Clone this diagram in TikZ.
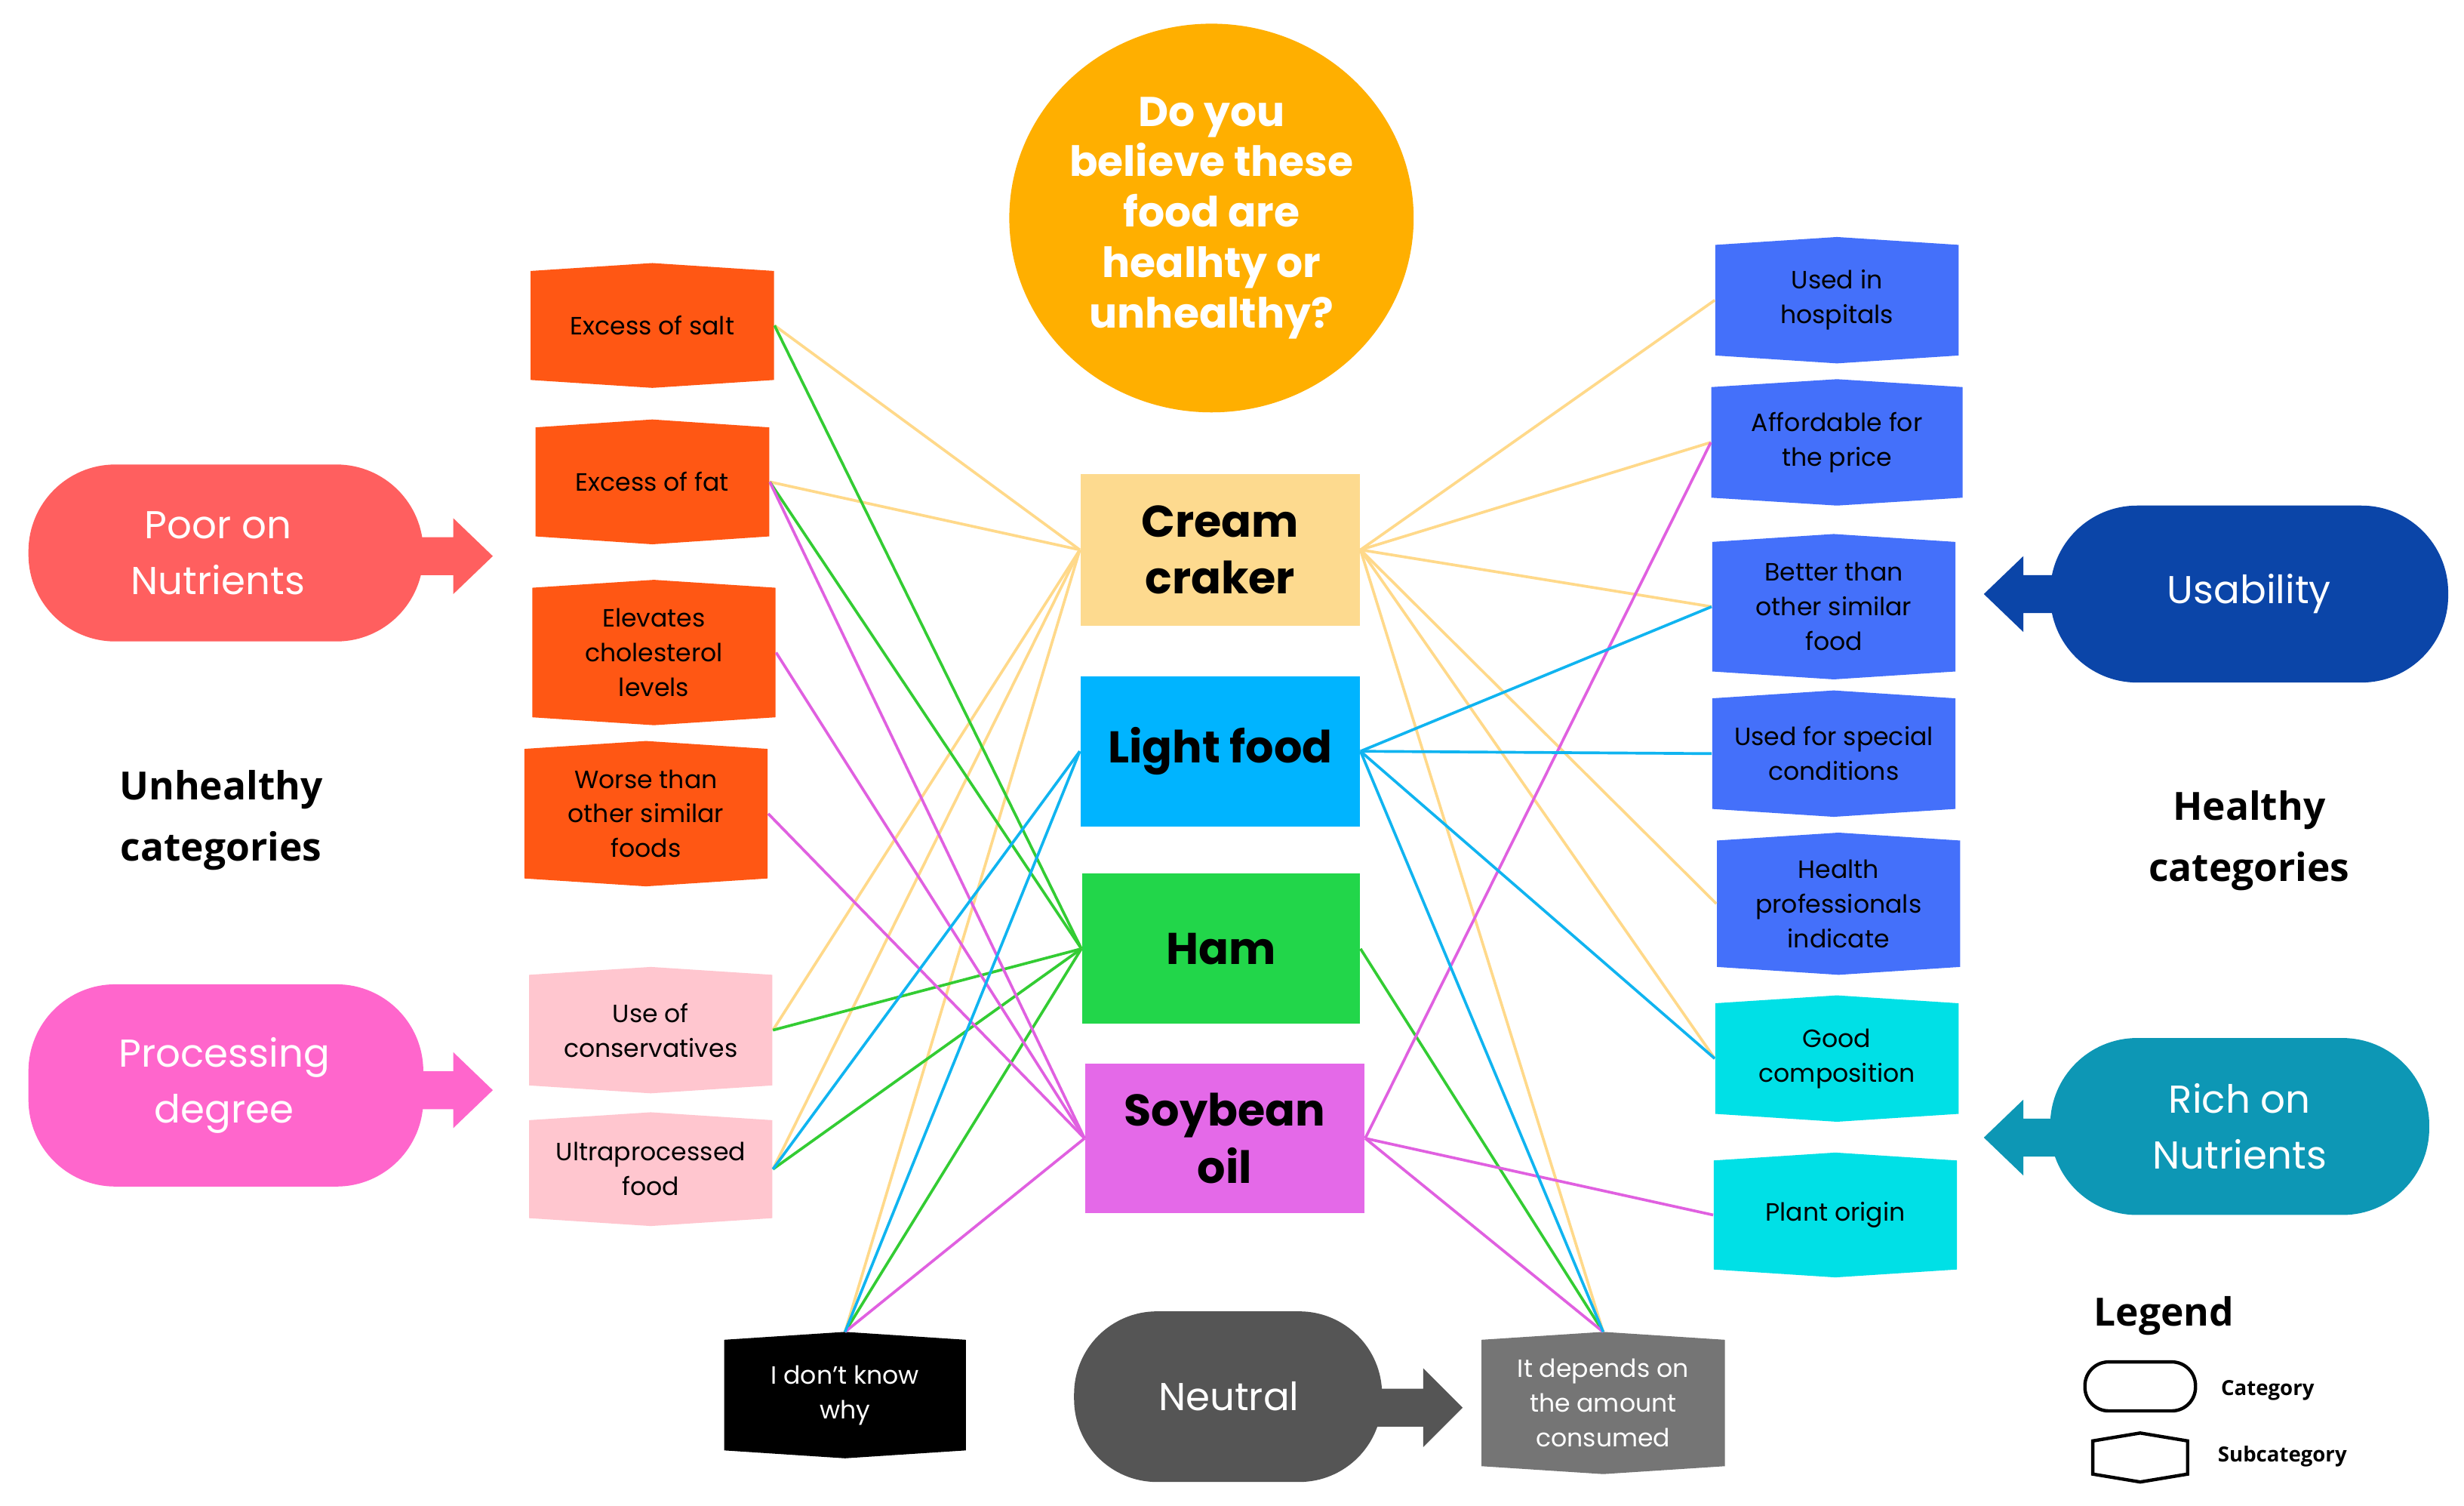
\documentclass[tikz,border=0pt]{standalone}
\usepackage{fontspec}
\setmainfont{Poppins}
\newfontfamily\osans{Open Sans}
\definecolor{qorange}{HTML}{FFAF00}
\definecolor{cream}{HTML}{FDDA8F}
\definecolor{lightb}{HTML}{00B4FF}
\definecolor{hamg}{HTML}{22D64A}
\definecolor{soyp}{HTML}{E469E8}
\definecolor{subor}{HTML}{FF5714}
\definecolor{subpk}{HTML}{FFC6CF}
\definecolor{subbl}{HTML}{4470FA}
\definecolor{subcy}{HTML}{00E0E6}
\definecolor{poorc}{HTML}{FF5F5F}
\definecolor{procc}{HTML}{FF66CC}
\definecolor{usac}{HTML}{0B45A8}
\definecolor{richc}{HTML}{0D97B5}
\definecolor{neuc}{HTML}{555555}
\definecolor{depc}{HTML}{757575}
\definecolor{lcream}{HTML}{FFD98A}
\definecolor{llight}{HTML}{10B4F0}
\definecolor{lham}{HTML}{33CC33}
\definecolor{lsoy}{HTML}{E060E0}
\tikzset{
 subtxt/.style={font=\fontsize{9}{12.5}\selectfont, align=center, inner sep=0pt},
 food/.style={rectangle, inner sep=0pt, font=\fontsize{16}{20.5}\selectfont\bfseries, align=center},
 cattxt/.style={font=\fontsize{14}{20}\selectfont, text=white, align=center},
 link/.style={line width=1pt},
}
% name, cx, cy, w, h, fill, text colour, text
\newcommand\subcat[8]{%
 \fill[#6] (#2-#4/2,#3-#5/2+5) -- (#2,#3-#5/2) -- (#2+#4/2,#3-#5/2+5) -- (#2+#4/2,#3+#5/2-5) -- (#2,#3+#5/2) -- (#2-#4/2,#3+#5/2-5) -- cycle;
 \node[subtxt, text=#7, rectangle, minimum width=#4*0.02cm, minimum height=(#5-10)*0.02cm] (#1) at (#2,#3) {#8};
 \coordinate (#1-top) at (#2,#3-#5/2);}
% name, x1, y1, x2, y2, fill
\newcommand\foodbox[6]{\fill[#6] (#2,#3) rectangle (#4,#5);}
\begin{document}
\begin{tikzpicture}[x=0.02cm,y=-0.02cm]
\useasboundingbox (0,0) rectangle (1560,953);
\fill[white] (0,0) rectangle (1560,953);
% question
\fill[qorange] (767,138) ellipse [x radius=128, y radius=123];
\node[font=\fontsize{15}{18.2}\selectfont\bfseries, text=white, align=center] (q) at (767,138) {Do you\\believe these\\food are\\healhty or\\unhealthy?};
% food boxes
\fill[cream] (684,300) rectangle (861,396);
\node[food, minimum width=177*0.02cm, minimum height=96*0.02cm] (cream) at (772.5,348) {Cream\\craker};
\fill[lightb] (684,428) rectangle (861,523);
\node[food, minimum width=177*0.02cm, minimum height=95*0.02cm] (light) at (772.5,475.5) {Light food};
\fill[hamg] (685,553) rectangle (861,648);
\node[food, minimum width=176*0.02cm, minimum height=95*0.02cm] (ham) at (773,600.5) {Ham};
\fill[soyp] (687,673) rectangle (864,768);
\node[food, minimum width=177*0.02cm, minimum height=95*0.02cm] (soy) at (775.5,720.5) {Soybean\\oil};
% left subcategories
\subcat{salt}{413}{206}{154}{79}{subor}{black}{Excess of salt}
\subcat{fat}{413}{305}{148}{79}{subor}{black}{Excess of fat}
\subcat{chol}{414}{413}{154}{92}{subor}{black}{Elevates\\cholesterol\\levels}
\subcat{worse}{409}{515}{154}{92}{subor}{black}{Worse than\\other similar\\foods}
\subcat{cons}{412}{652}{154}{80}{subpk}{black}{Use of\\conservatives}
\subcat{ultra}{412}{740}{154}{72}{subpk}{black}{Ultraprocessed\\food}
\subcat{dk}{535}{883}{153}{80}{black}{white}{I don't know\\why}
\subcat{dep}{1015}{888}{154}{90}{depc}{white}{It depends on\\the amount\\consumed}
% right subcategories
\subcat{hosp}{1163}{190}{154}{80}{subbl}{black}{Used in\\hospitals}
\subcat{afford}{1163}{280}{159}{80}{subbl}{black}{Affordable for\\the price}
\subcat{better}{1161}{384}{154}{92}{subbl}{black}{Better than\\other similar\\food}
\subcat{special}{1161}{477}{154}{80}{subbl}{black}{Used for special\\conditions}
\subcat{hprof}{1164}{572}{154}{90}{subbl}{black}{Health\\professionals\\indicate}
\subcat{good}{1163}{670}{154}{80}{subcy}{black}{Good\\composition}
\subcat{plant}{1162}{769}{154}{79}{subcy}{black}{Plant origin}
% connectors
\begin{scope}[link]
\foreach \t in {salt,fat,cons,ultra} \draw[lcream] (cream.west) -- (\t.east);
\draw[lcream] (cream.west) -- (dk-top);
\foreach \t in {hosp,afford,better,hprof,good} \draw[lcream] (cream.east) -- (\t.west);
\draw[lcream] (cream.east) -- (dep-top);
\foreach \t in {salt,fat,cons,ultra} \draw[lham] (ham.west) -- (\t.east);
\draw[lham] (ham.west) -- (dk-top);
\draw[lham] (ham.east) -- (dep-top);
\foreach \t in {fat,chol,worse} \draw[lsoy] (soy.west) -- (\t.east);
\draw[lsoy] (soy.west) -- (dk-top);
\foreach \t in {afford,plant} \draw[lsoy] (soy.east) -- (\t.west);
\draw[lsoy] (soy.east) -- (dep-top);
\draw[llight] (light.west) -- (ultra.east);
\draw[llight] (light.west) -- (dk-top);
\foreach \t in {better,special,good} \draw[llight] (light.east) -- (\t.west);
\draw[llight] (light.east) -- (dep-top);
\end{scope}
% categories
\fill[poorc, rounded corners=1.1cm] (18,294) rectangle (268,406);
\fill[poorc] (260,340) -- (287,340) -- (287,328) -- (312,352) -- (287,376) -- (287,364) -- (260,364) -- cycle;
\node[cattxt] (poor) at (138,350) {Poor on\\Nutrients};
\fill[procc, rounded corners=1.1cm] (18,623) rectangle (268,751);
\fill[procc] (260,678) -- (287,678) -- (287,666) -- (312,690) -- (287,714) -- (287,702) -- (260,702) -- cycle;
\node[cattxt] (proc) at (142,687) {Processing\\degree};
\fill[usac, rounded corners=1.1cm] (1298,320) rectangle (1550,432);
\fill[usac] (1306,364) -- (1281,364) -- (1281,352) -- (1256,376) -- (1281,400) -- (1281,388) -- (1306,388) -- cycle;
\node[cattxt] (usab) at (1424,376) {Usability};
\fill[richc, rounded corners=1.1cm] (1298,657) rectangle (1538,769);
\fill[richc] (1306,708) -- (1281,708) -- (1281,696) -- (1256,720) -- (1281,744) -- (1281,732) -- (1306,732) -- cycle;
\node[cattxt] (rich) at (1418,713) {Rich on\\Nutrients};
\fill[neuc, rounded corners=1.05cm] (680,830) rectangle (875,938);
\fill[neuc] (868,879) -- (901,879) -- (901,866) -- (926,891) -- (901,916) -- (901,903) -- (868,903) -- cycle;
\node[cattxt] (neu) at (778,884) {Neutral};
% group labels
\node[font=\osans\fontsize{14}{22}\selectfont\bfseries, align=center] (unh) at (140,519) {Unhealthy\\categories};
\node[font=\osans\fontsize{14}{22}\selectfont\bfseries, align=center] (hea) at (1424,532) {Healthy\\categories};
% legend
\node[font=\osans\fontsize{14}{16}\selectfont\bfseries] (leg) at (1370,833) {Legend};
\draw[line width=1.2pt, rounded corners=0.3cm] (1320,862) rectangle (1390,893);
\node[font=\osans\fontsize{7.5}{9}\selectfont\bfseries, anchor=west] (lcat) at (1400,880) {Category};
\draw[line width=1.2pt] (1325,912) -- (1355,907) -- (1385,912) -- (1385,933) -- (1355,938) -- (1325,933) -- cycle;
\node[font=\osans\fontsize{7.5}{9}\selectfont\bfseries, anchor=west] (lsub) at (1398,922) {Subcategory};
\end{tikzpicture}
\end{document}
